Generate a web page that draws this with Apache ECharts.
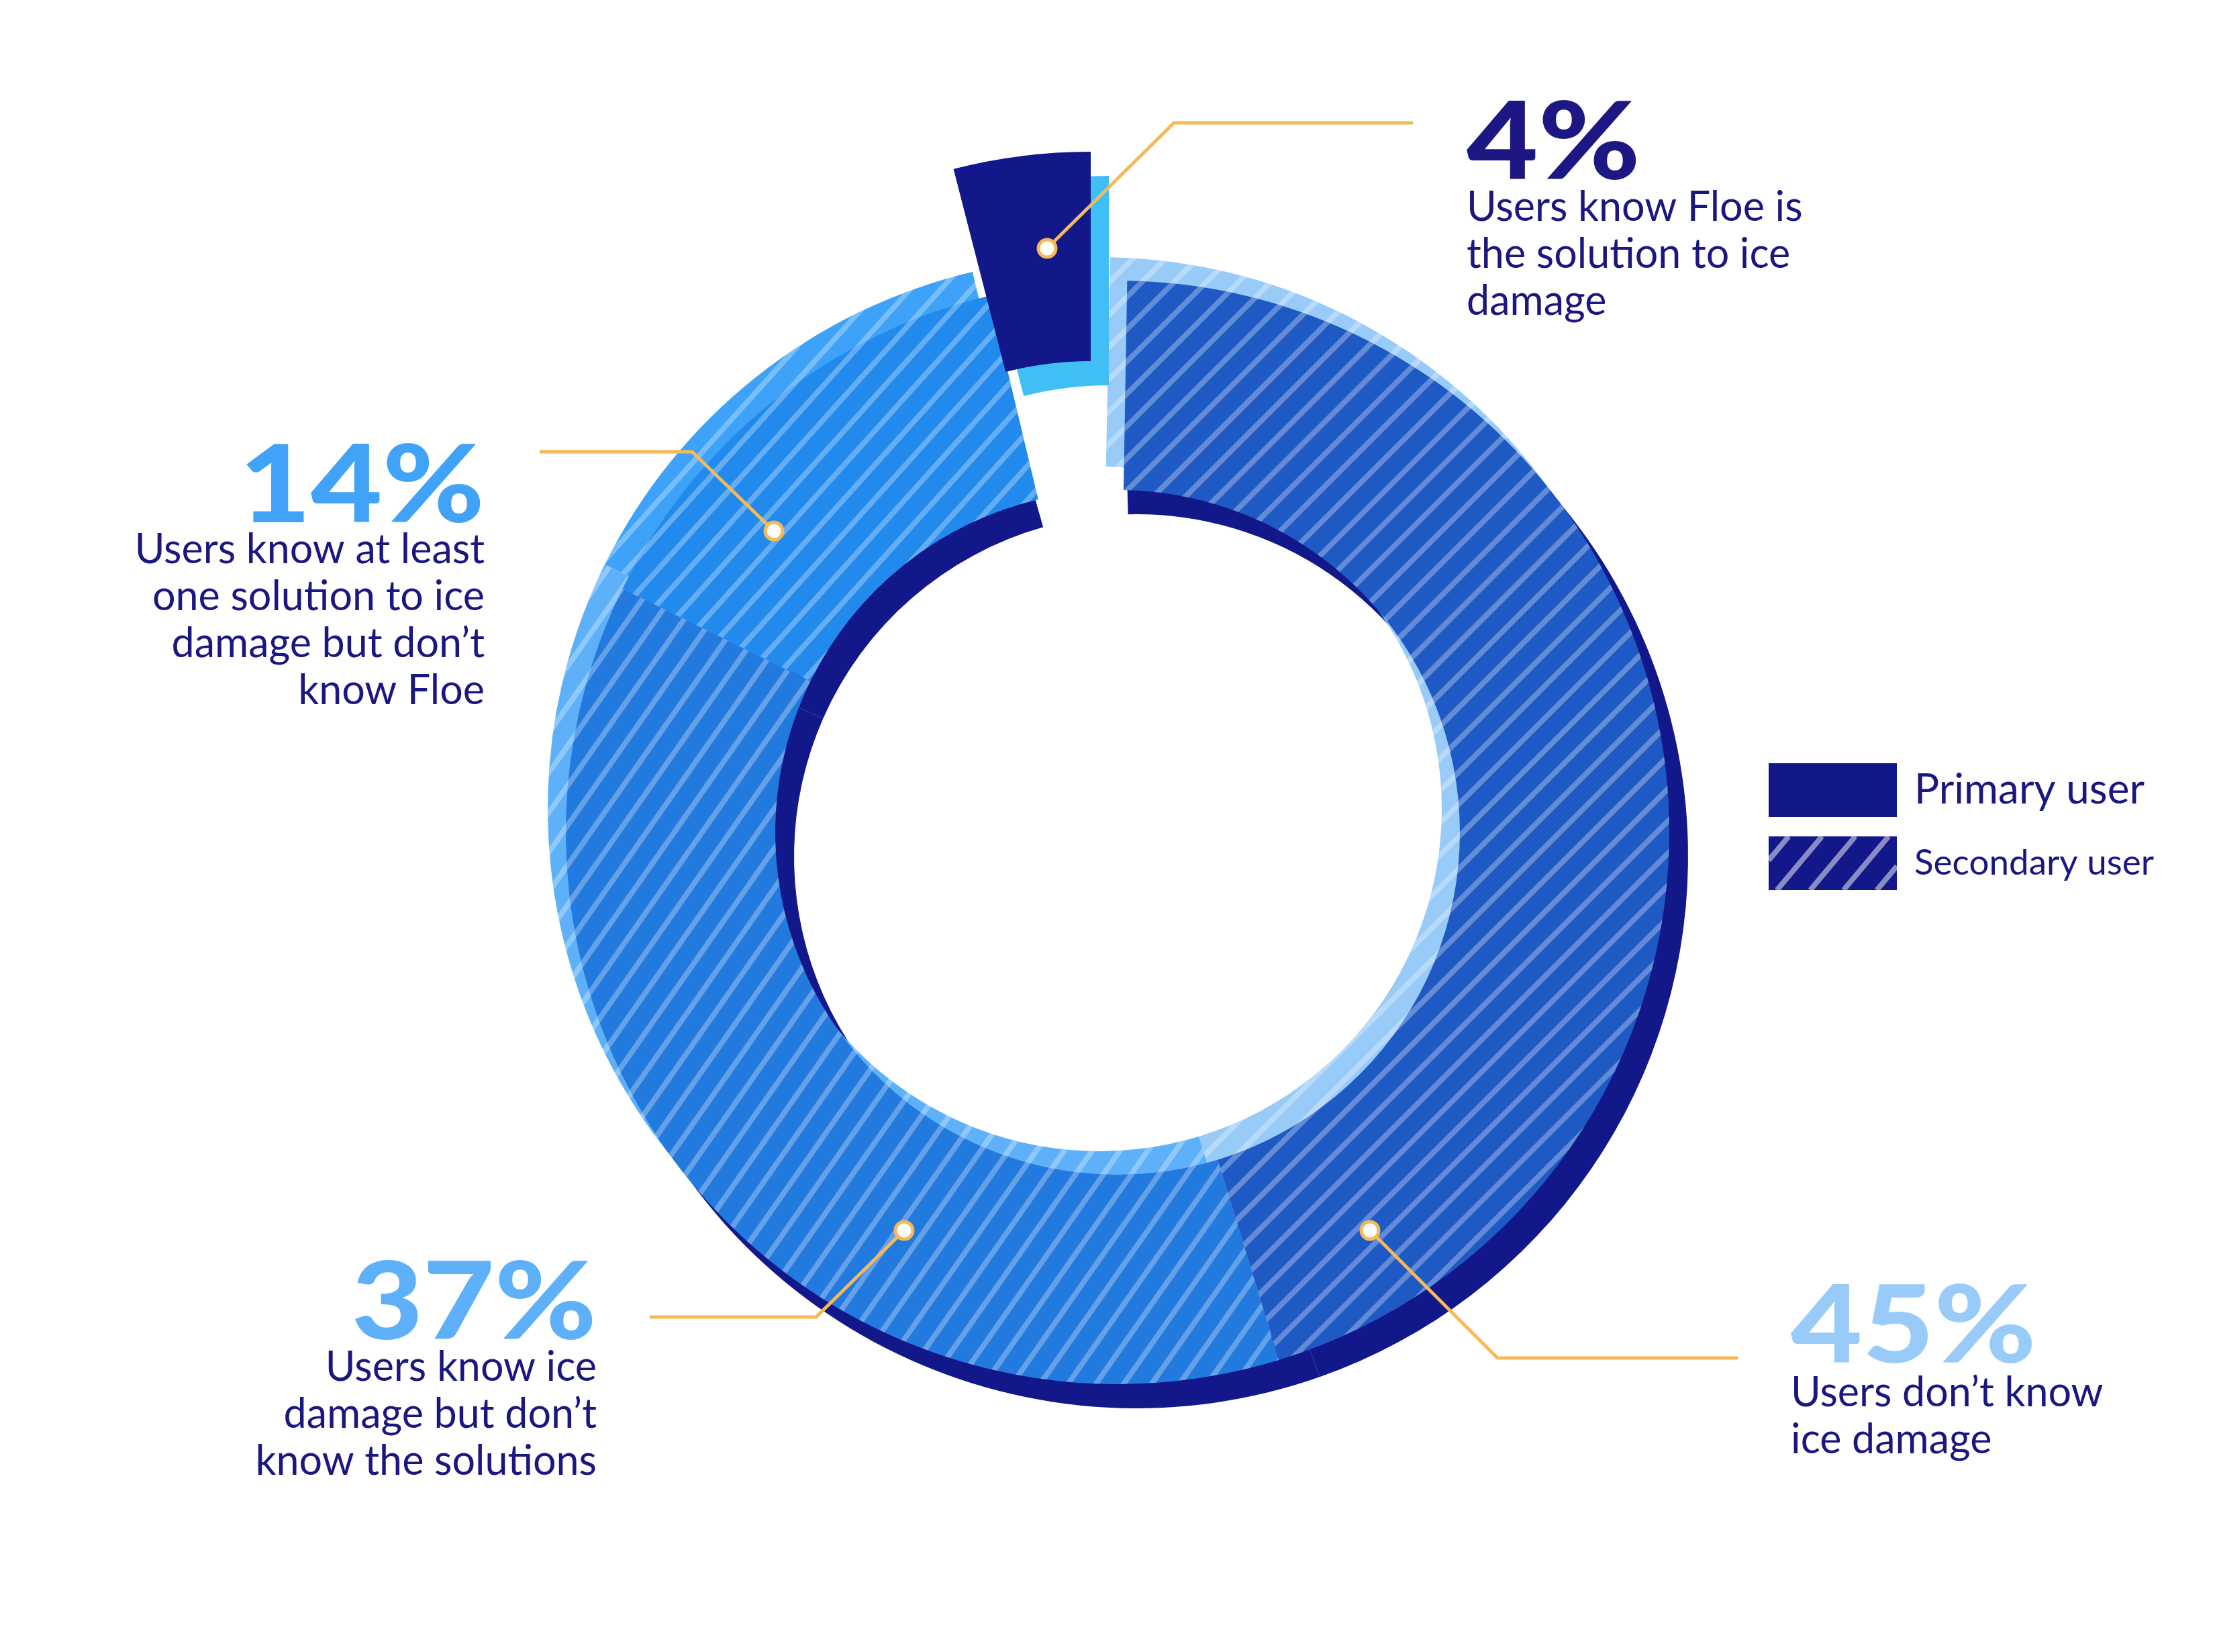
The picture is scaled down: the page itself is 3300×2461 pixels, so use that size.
<!DOCTYPE html>
<html><head><meta charset="utf-8">
<script src="https://cdn.jsdelivr.net/npm/echarts@6/dist/echarts.min.js"></script>
<style>html,body{margin:0;padding:0;background:#fff}#c{width:3300px;height:2461px}</style>
</head><body><div id="c"></div>
<script>
// ---------- data ----------
const categories = [
  'Users don’t know ice damage',
  'Users know ice damage but don’t know the solutions',
  'Users know at least one solution to ice damage but don’t know Floe',
  'Users know Floe is the solution to ice damage'
];
const shares = [45, 37, 14, 4];
const labelLines = [
  ['Users don’t know', 'ice damage'],
  ['Users know ice', 'damage but don’t', 'know the solutions'],
  ['Users know at least', 'one solution to ice', 'damage but don’t', 'know Floe'],
  ['Users know Floe is', 'the solution to ice', 'damage']
];
const legendNames = ['Primary user', 'Secondary user'];

// ---------- styling / layout ----------
const NAVY = '#12178A';
const TEXT = '#1B1780';
const ORANGE = '#F5B955';
const RI = 510, RO = 822;
const hatchColors = ['#1F5AC4', '#2279DE', '#228AEC', null];
const lightColors = ['#99CBF9', '#5EB1F9', '#3DA2F8', null];
const navyColors = [NAVY, NAVY, NAVY, null];
const pieceColors = [null, null, null, NAVY];
const pieceShadowColors = [null, null, null, '#40BFF4'];
const numberColors = ['#99CBF9', '#5EB1F9', '#40A3F8', '#1C1783'];
const stripeRot = [45, 55, 48, 45];

function decal(i) {
  return {
    symbol: 'rect', symbolSize: 1,
    dashArrayX: [1, 0], dashArrayY: [8, 26],
    rotation: -stripeRot[i] * Math.PI / 180,
    color: 'rgba(255,255,255,0.3)'
  };
}

function ring(center, startAngle, colors, withDecal, z) {
  return {
    type: 'pie', center: center, radius: [RI, RO], startAngle: startAngle,
    clockwise: true, z: z, silent: true, animation: false,
    avoidLabelOverlap: false, minAngle: 0,
    label: { show: false }, labelLine: { show: false },
    emphasis: { disabled: true },
    itemStyle: { borderWidth: 0, borderRadius: 0 },
    data: shares.map((v, i) => ({
      value: v, name: categories[i],
      itemStyle: Object.assign(
        { color: colors[i] || 'rgba(0,0,0,0)', borderWidth: 0 },
        (withDecal && colors[i]) ? { decal: decal(i) } : {}
      )
    }))
  };
}

const series = [
  ring([1693, 1276], 91.4, navyColors, false, 1),
  ring([1638, 1205], 88.9, lightColors, true, 2),
  ring([1665, 1240], 89, hatchColors, true, 3),
  ring([1652, 1084], 90, pieceShadowColors, false, 4),
  ring([1625, 1048], 90, pieceColors, false, 5)
];

// ---------- annotations ----------
const NUM_FS = 160, NUM_SX = 1.15, BODY_FS = 61, BODY_LH = 70;
const callouts = [
  { align: 'left',  x: 2668, numBase: 2040, bodyBase: 2099, pts: [[2041,1833],[2231,2023],[2589,2023]] },
  { align: 'right', x: 889,  numBase: 2005, bodyBase: 2061, pts: [[1347,1833],[1216,1962],[968,1962]] },
  { align: 'right', x: 722,  numBase: 788,  bodyBase: 843,  pts: [[1153,791],[1031,673],[804,673]] },
  { align: 'left',  x: 2185, numBase: 277,  bodyBase: 333,  pts: [[1560,370],[1749,183],[2105,183]] }
];
const MID = 0.387; // baseline offset below em middle for Lato
const elements = [];
callouts.forEach((c, i) => {
  elements.push({
    type: 'polyline', z: 50, silent: true,
    shape: { points: c.pts },
    style: { stroke: ORANGE, lineWidth: 5, fill: null, lineJoin: 'miter' }
  });
  elements.push({
    type: 'circle', z: 51, silent: true,
    shape: { cx: c.pts[0][0], cy: c.pts[0][1], r: 13 },
    style: { fill: '#fff', stroke: ORANGE, lineWidth: 5 }
  });
  elements.push({
    type: 'text', z: 60, silent: true,
    x: c.x, y: c.numBase - MID * NUM_FS, scaleX: NUM_SX, scaleY: 1,
    style: {
      text: shares[i] + '%', x: 0, y: 0,
      font: '900 ' + NUM_FS + 'px Lato', fill: numberColors[i],
      textAlign: c.align, textVerticalAlign: 'middle', verticalAlign: 'middle'
    }
  });
  elements.push({
    type: 'text', z: 60, silent: true,
    style: {
      text: labelLines[i].join('\n'), x: c.x, y: c.bodyBase - BODY_LH / 2 - MID * BODY_FS,
      font: '400 ' + BODY_FS + 'px Lato', lineHeight: BODY_LH, fill: TEXT,
      textAlign: c.align, textVerticalAlign: 'top', verticalAlign: 'top'
    }
  });
});

// legend
const LX = 2635, LW = 191, LH = 80, LY = [1137, 1246];
elements.push({ type: 'rect', z: 60, silent: true, shape: { x: LX, y: LY[0], width: LW, height: LH }, style: { fill: NAVY } });
elements.push({ type: 'rect', z: 60, silent: true, shape: { x: LX, y: LY[1], width: LW, height: LH }, style: { fill: NAVY } });
// clipped stripes for hatched sample
(function () {
  const a = 50 * Math.PI / 180, d = [Math.cos(a), -Math.sin(a)], n = [Math.sin(a), Math.cos(a)];
  const cx = LX + LW / 2, cy = LY[1] + LH / 2, sp = 38;
  for (let k = -8; k <= 8; k++) {
    const px = cx + n[0] * k * sp, py = cy + n[1] * k * sp;
    let t0 = -1000, t1 = 1000;
    const clip = (p, q) => { if (Math.abs(p) < 1e-9) return q >= 0; const r = q / p; if (p < 0) { if (r > t1) return false; if (r > t0) t0 = r; } else { if (r < t0) return false; if (r < t1) t1 = r; } return true; };
    const x0 = px, y0 = py;
    if (clip(-d[0], x0 - LX) && clip(d[0], LX + LW - x0) && clip(-d[1], y0 - LY[1]) && clip(d[1], LY[1] + LH - y0) && t1 > t0) {
      elements.push({ type: 'line', z: 61, silent: true,
        shape: { x1: x0 + d[0] * t0, y1: y0 + d[1] * t0, x2: x0 + d[0] * t1, y2: y0 + d[1] * t1 },
        style: { stroke: 'rgba(255,255,255,0.5)', lineWidth: 8, lineCap: 'butt' } });
    }
  }
})();
[[62, LY[0]], [53, LY[1]]].forEach((s, i) => {
  elements.push({
    type: 'text', z: 60, silent: true,
    style: { text: legendNames[i], x: 2852, y: s[1] + LH / 2, font: '400 ' + s[0] + 'px Lato', fill: TEXT,
      textAlign: 'left', textVerticalAlign: 'middle', verticalAlign: 'middle' }
  });
});

const chart = echarts.init(document.getElementById('c'), null, { renderer: 'canvas' });
chart.setOption({
  backgroundColor: '#ffffff',
  animation: false,
  tooltip: { show: false },
  series: series,
  graphic: { elements: elements }
});
</script>
</body></html>
